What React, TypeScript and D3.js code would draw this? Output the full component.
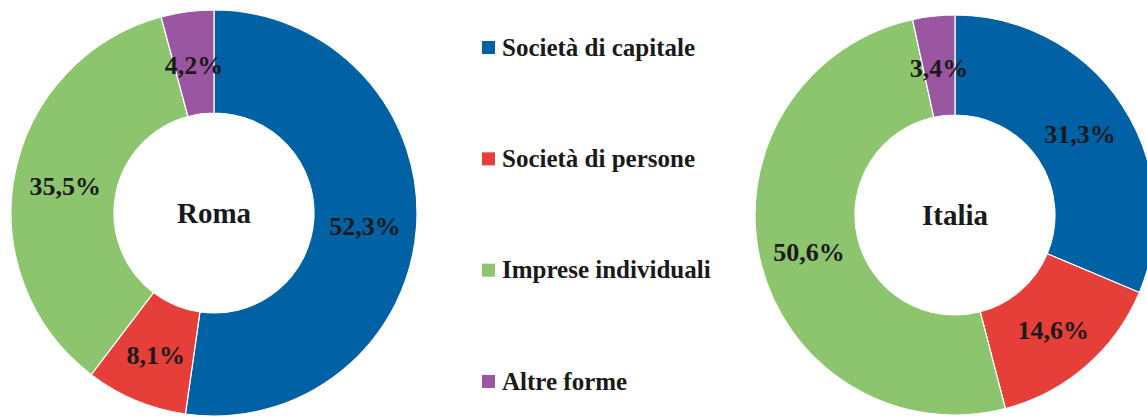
import React from "react";
import * as d3 from "d3";

const categories = ["Società di capitale", "Società di persone", "Imprese individuali", "Altre forme"];
const romaValues = [52.3, 8.1, 35.5, 4.2];
const italiaValues = [31.3, 14.6, 50.6, 3.4];
const colors = ["#0061A4", "#E63E38", "#8DC56E", "#9B56A2"];

const W = 1147;
const H = 417;
const FONT = "Liberation Serif";

function Donut({ values, title, cx, cy, outer, inner }: { values: number[]; title: string; cx: number; cy: number; outer: number; inner: number }) {
  const pie = d3.pie<number>().sort(null).value((d) => d);
  const arcs = pie(values);
  const arc = d3.arc<d3.PieArcDatum<number>>().innerRadius(inner).outerRadius(outer);
  const labelArc = d3.arc<d3.PieArcDatum<number>>().innerRadius(inner).outerRadius(outer);
  const fmt = (v: number) => v.toFixed(1).replace(".", ",") + "%";
  return (
    <g transform={`translate(${cx},${cy})`}>
      {arcs.map((a, i) => (
        <path key={i} d={arc(a) || ""} fill={colors[i]} stroke="#ffffff" strokeWidth={1.2} />
      ))}
      {arcs.map((a, i) => {
        const [x, y] = labelArc.centroid(a);
        return (
          <text key={"l" + i} x={x} y={y + 2} dy="0.35em" textAnchor="middle" style={{ fontFamily: FONT, fontWeight: 700, fontSize: "26px" }} fill="#1a1a1a">
            {fmt(values[i])}
          </text>
        );
      })}
      <text x={0} y={0} dy="0.35em" textAnchor="middle" style={{ fontFamily: FONT, fontWeight: 700, fontSize: "29px" }} fill="#1a1a1a">
        {title}
      </text>
    </g>
  );
}

export default function App() {
  const legendY = d3.scalePoint<string>().domain(categories).range([47, 381]);
  return (
    <svg width={W} height={H} style={{ position: "absolute", left: 0, top: 0, background: "#ffffff" }}>
      <Donut values={romaValues} title="Roma" cx={214} cy={213} outer={203} inner={100} />
      <Donut values={italiaValues} title="Italia" cx={955} cy={215} outer={200} inner={100} />
      {categories.map((c, i) => {
        const y = legendY(c) as number;
        return (
          <g key={c}>
            <rect x={482} y={y - 6} width={13} height={13} fill={colors[i]} />
            <text x={502} y={y} dy="0.35em" style={{ fontFamily: FONT, fontWeight: 700, fontSize: "25px" }} fill="#1a1a1a">
              {c}
            </text>
          </g>
        );
      })}
    </svg>
  );
}
